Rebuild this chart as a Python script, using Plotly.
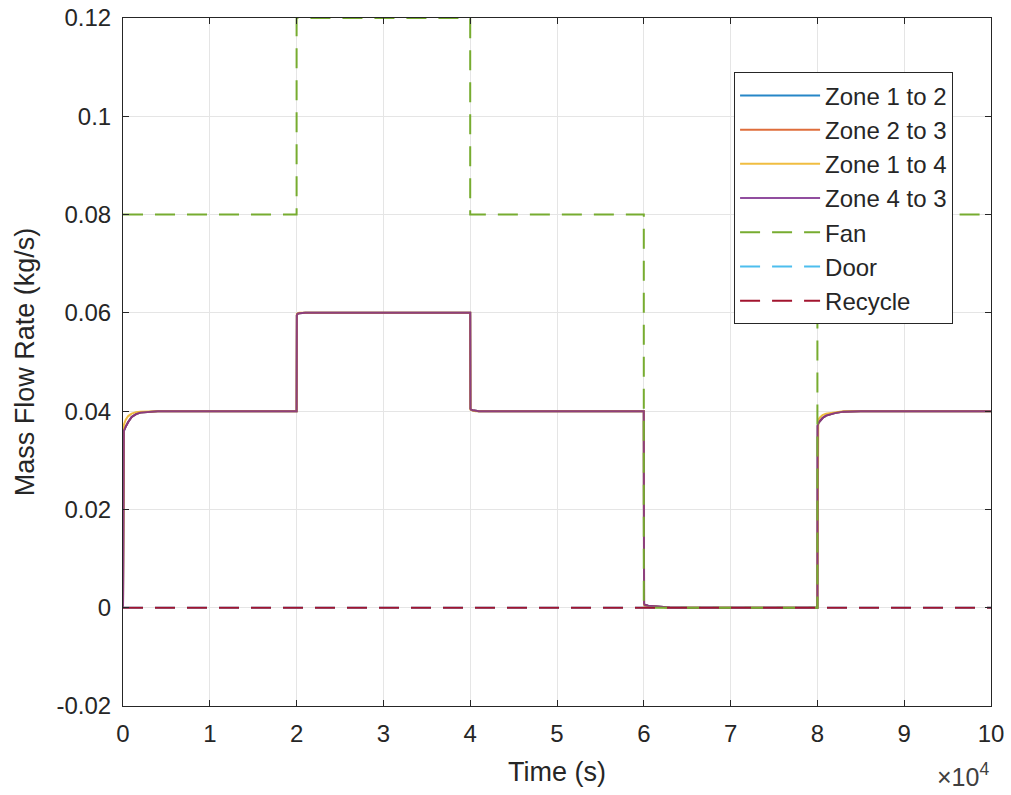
import plotly.graph_objects as go

# ---- data ----
t_zone = [0, 20, 50, 100, 300, 600, 1000, 1500, 2000, 3000, 4000, 5000,
          20000, 20030, 20100, 20300, 20600, 21000, 22000,
          40000, 40030, 40100, 40300, 40600, 41000, 42000,
          60000, 60030, 60100, 60500, 61000, 62000, 63000, 65000,
          80000, 80030, 80100, 80300, 80600, 81000, 82000, 83000, 85000, 100000]

zone_1_2 = [0, 0.0340, 0.0355, 0.0360, 0.0368, 0.0378, 0.0388, 0.0394, 0.0397, 0.0399, 0.0400, 0.0400,
            0.0400, 0.0595, 0.0598, 0.0599, 0.0600, 0.0600, 0.0600,
            0.0600, 0.0405, 0.0403, 0.0402, 0.0401, 0.0400, 0.0400,
            0.0400, 0.0008, 0.0006, 0.0004, 0.0003, 0.0001, 0.00005, 0.0,
            0.0, 0.0370, 0.0375, 0.0380, 0.0386, 0.0391, 0.0396, 0.0399, 0.0400, 0.0400]
zone_2_3 = [0, 0.0340, 0.0355, 0.0360, 0.0368, 0.0378, 0.0388, 0.0394, 0.0397, 0.0399, 0.0400, 0.0400,
            0.0400, 0.0595, 0.0598, 0.0599, 0.0600, 0.0600, 0.0600,
            0.0600, 0.0405, 0.0403, 0.0402, 0.0401, 0.0400, 0.0400,
            0.0400, 0.0008, 0.0006, 0.0004, 0.0003, 0.0001, 0.00005, 0.0,
            0.0, 0.0370, 0.0375, 0.0380, 0.0386, 0.0391, 0.0396, 0.0399, 0.0400, 0.0400]
zone_1_4 = [0, 0.0355, 0.0365, 0.0372, 0.0382, 0.0390, 0.0395, 0.0398, 0.0399, 0.0400, 0.0400, 0.0400,
            0.0400, 0.0598, 0.0599, 0.0600, 0.0600, 0.0600, 0.0600,
            0.0600, 0.0403, 0.0402, 0.0401, 0.0400, 0.0400, 0.0400,
            0.0400, 0.0006, 0.0004, 0.0003, 0.0002, 0.0001, 0.00003, 0.0,
            0.0, 0.0378, 0.0382, 0.0387, 0.0392, 0.0395, 0.0398, 0.0400, 0.0400, 0.0400]
zone_4_3 = [0, 0.0340, 0.0355, 0.0360, 0.0368, 0.0378, 0.0388, 0.0394, 0.0397, 0.0399, 0.0400, 0.0400,
            0.0400, 0.0595, 0.0598, 0.0599, 0.0600, 0.0600, 0.0600,
            0.0600, 0.0405, 0.0403, 0.0402, 0.0401, 0.0400, 0.0400,
            0.0400, 0.0008, 0.0006, 0.0004, 0.0003, 0.0001, 0.00005, 0.0,
            0.0, 0.0370, 0.0375, 0.0380, 0.0386, 0.0391, 0.0396, 0.0399, 0.0400, 0.0400]

t_fan = [0, 20000, 40000, 60000, 80000, 100000]
fan = [0.08, 0.12, 0.08, 0.0, 0.08, 0.08]

t_const = [0, 100000]
door = [0, 0]
recycle = [0, 0]

x_tickvals = [0, 10000, 20000, 30000, 40000, 50000, 60000, 70000, 80000, 90000, 100000]
x_ticktext = ["0", "1", "2", "3", "4", "5", "6", "7", "8", "9", "10"]
y_tickvals = [-0.02, 0, 0.02, 0.04, 0.06, 0.08, 0.1, 0.12]
y_ticktext = ["-0.02", "0", "0.02", "0.04", "0.06", "0.08", "0.1", "0.12"]

# ---- figure ----
DASH = "20px,12px"
FONT = "Liberation Sans, Arial, sans-serif"
TXT = "#262626"
fig = go.Figure()
series = [
    ("Zone 1 to 2", t_zone, zone_1_2, "#0072BD", "solid", "linear"),
    ("Zone 2 to 3", t_zone, zone_2_3, "#D95319", "solid", "linear"),
    ("Zone 1 to 4", t_zone, zone_1_4, "#EDB120", "solid", "linear"),
    ("Zone 4 to 3", t_zone, zone_4_3, "#7E2F8E", "solid", "linear"),
    ("Fan", t_fan, fan, "#77AC30", DASH, "hv"),
    ("Door", t_const, door, "#4DBEEE", DASH, "linear"),
    ("Recycle", t_const, recycle, "#A2142F", DASH, "linear"),
]
for i, (name, xs, ys, col, dash, shape) in enumerate(series):
    fig.add_trace(go.Scatter(
        x=xs, y=ys, name=name, mode="lines",
        line=dict(color=col, width=2, dash=dash, shape=shape),
        opacity=0.85 if i < 4 else 1.0,
        legendgroup=f"g{i}",
    ))

axis_common = dict(
    showline=True, linecolor=TXT, linewidth=1, mirror="ticks",
    ticks="inside", ticklen=6, tickwidth=1, tickcolor=TXT,
    showgrid=True, gridcolor="#e5e5e5", gridwidth=1, zeroline=False,
    tickfont=dict(family=FONT, size=24, color=TXT),
    automargin=False, ticklabeloverflow="allow",
)

fig.update_layout(
    width=1011, height=795,
    margin=dict(l=123, r=20, t=18, b=89),
    paper_bgcolor="white", plot_bgcolor="white",
    font=dict(family=FONT, color=TXT),
    xaxis=dict(range=[0, 100000], tickvals=x_tickvals, ticktext=x_ticktext,
               ticklabelstandoff=6,
               title=dict(text="Time (s)", font=dict(size=27, color=TXT), standoff=16),
               **axis_common),
    yaxis=dict(range=[-0.02, 0.12], tickvals=y_tickvals, ticktext=y_ticktext,
               ticklabelstandoff=6,
               title=dict(text="Mass Flow Rate (kg/s)", font=dict(size=27, color=TXT), standoff=14),
               **axis_common),
    legend=dict(x=0.704, y=0.921, xanchor="left", yanchor="top",
                bgcolor="white", bordercolor=TXT, borderwidth=1,
                font=dict(family=FONT, size=24, color=TXT), tracegroupgap=0,
                itemwidth=80, traceorder="normal"),
    showlegend=True,
)
fig.add_annotation(text="×10<sup>4</sup>", xref="paper", yref="paper",
                   x=1.0, y=-0.074, xanchor="right", yanchor="top", showarrow=False,
                   font=dict(family=FONT, size=25, color="#404040"))

fig.write_html("out.html", config={"displayModeBar": False},
               post_script="document.body.style.margin='0';")
